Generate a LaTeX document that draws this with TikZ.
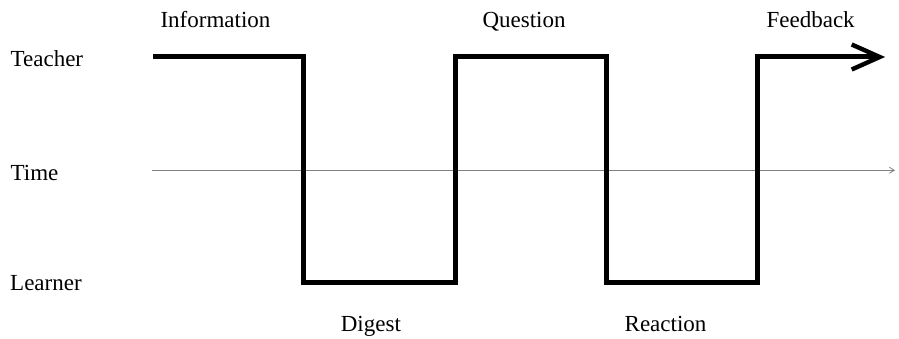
\documentclass[tikz,border=0pt]{standalone}
\usepackage{fontspec}
\setmainfont{Liberation Serif}
\usetikzlibrary{arrows.meta}
\begin{document}
\begin{tikzpicture}[x=2.6535cm, y=2.6535cm, font=\fontsize{11.5}{13}\selectfont,
		stepline/.style={line width=2.5pt, -{Straight Barb[length=14pt, width=12.5pt, line width=2.2pt]}},
		timeline/.style={gray, line width=0.5pt, -{Straight Barb[length=2.5pt, width=3pt, line width=0.4pt]}},
		lbl/.style={inner sep=0pt, anchor=base}]
			\useasboundingbox (-0.013,-0.371) rectangle (5.940,1.8675);
			% levels
			\node[lbl, anchor=base west] (teacher) at (0.055,1.43) {Teacher};
			\node[lbl, anchor=base west] (time) at (0.055,0.675) {Time};
			\node[lbl, anchor=base west] (learner) at (0.052,-0.053) {Learner};
			% phases
			\node[lbl] (info) at (1.414,1.684) {Information};
			\node[lbl] (quest) at (3.457,1.684) {Question};
			\node[lbl] (feed) at (5.355,1.684) {Feedback};
			\node[lbl] (digest) at (2.443,-0.325) {Digest};
			\node[lbl] (react) at (4.394,-0.325) {Reaction};
			% time axis
			\coordinate (t0) at (0.993,0.74);
			\coordinate (t1) at (5.914,0.74);
			\draw[timeline] (t0) -- (t1);
			% teacher / learner steps
			\draw[stepline] (1,1.49) -- (2,1.49) -- (2,0) -- (3,0) -- (3,1.49) -- (4,1.49) -- (4,0) -- (5,0) -- (5,1.49) -- (5.848,1.49);
		\end{tikzpicture}
\end{document}
